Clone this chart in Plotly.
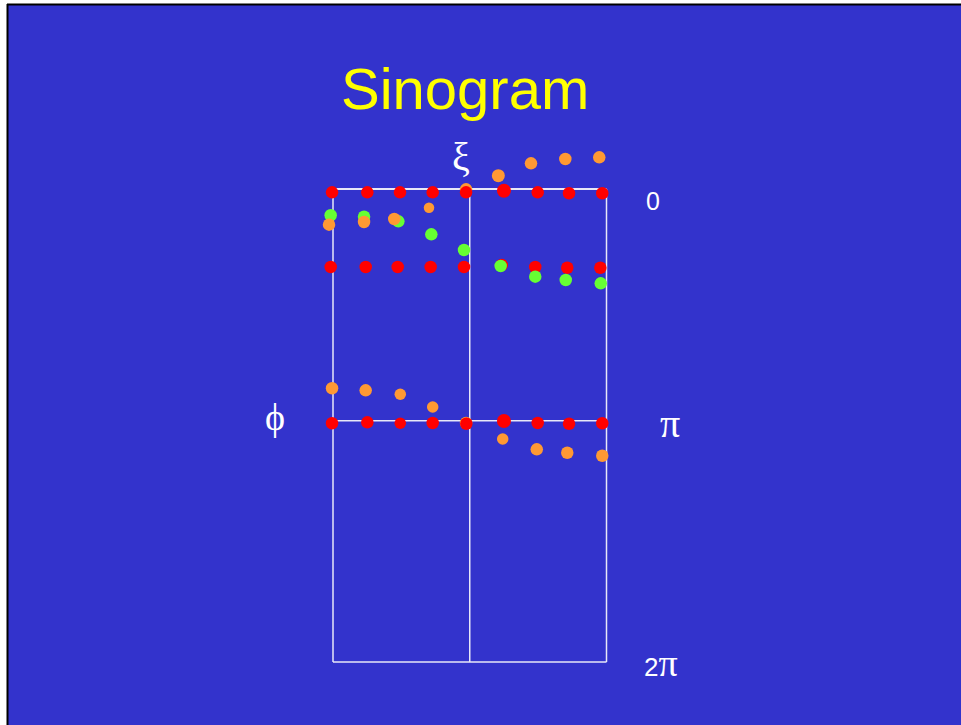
import plotly.graph_objects as go

# ---- data (xi horizontal, phi vertical in radians, 0 at top) ----
grid_xi = [-1.0, 0.0, 1.0]
grid_phi = [0.0, 3.08, 6.283]

red_row1_xi = [-1.007, -0.749, -0.510, -0.271, -0.027, 0.250, 0.497, 0.726, 0.969]
red_row1_phi = [0.044, 0.044, 0.044, 0.044, 0.044, 0.023, 0.044, 0.057, 0.057]
red_row1_size = [12.5, 12.5, 12.5, 12.5, 12.5, 14, 12.5, 12.5, 12.5]

red_row2_xi = [-1.017, -0.761, -0.527, -0.286, -0.042, 0.234, 0.479, 0.713, 0.955]
red_row2_phi = [1.036, 1.036, 1.036, 1.036, 1.036, 1.010, 1.036, 1.046, 1.046]
red_row2_size = [12.5, 12.5, 12.5, 12.5, 12.5, 12.5, 12.5, 12.5, 12.5]

red_row3_xi = [-1.007, -0.749, -0.508, -0.271, -0.025, 0.250, 0.497, 0.726, 0.969]
red_row3_phi = [3.112, 3.099, 3.112, 3.108, 3.118, 3.082, 3.108, 3.118, 3.112]
red_row3_size = [12.5, 12.5, 11.5, 12.5, 12.5, 14, 12.5, 12.5, 12.5]

green_xi = [-1.017, -0.773, -0.522, -0.281, -0.042, 0.226, 0.479, 0.702, 0.958]
green_phi = [0.349, 0.368, 0.429, 0.602, 0.810, 1.023, 1.165, 1.209, 1.253]
green_size = [12.5, 12.5, 12.5, 12.5, 12.5, 12.5, 12.5, 12.5, 12.5]

orange_a_xi = [-1.029, -0.773, -0.552, -0.298, -0.027, 0.209, 0.448, 0.699, 0.947]
orange_a_phi = [0.474, 0.438, 0.399, 0.248, 0.004, -0.177, -0.341, -0.399, -0.421]
orange_a_size = [12.5, 12.5, 12.5, 10.5, 12.5, 13, 12.5, 12.5, 12.5]

orange_b_xi = [-1.007, -0.761, -0.508, -0.271, -0.027, 0.241, 0.490, 0.713, 0.969]
orange_b_phi = [2.647, 2.674, 2.727, 2.896, 3.108, 3.321, 3.458, 3.503, 3.543]
orange_b_size = [12.5, 12.5, 11.5, 11.5, 12.5, 11.5, 12.5, 12.5, 12.5]

RED = "#FF0000"
GREEN = "#66FF33"
ORANGE = "#FF9933"
BLUE = "#3333CC"

W, H = 961, 725
# axis ranges so that xi=-1..1 spans px 333..606.5 and phi=0..2pi spans px 189..662
px_per_xi = 136.75
xi0_px = 469.75
px_per_phi = 473 / 6.283
phi0_px = 189
x_range = [(0 - xi0_px) / px_per_xi, (W - xi0_px) / px_per_xi]
y_range = [(H - phi0_px) / px_per_phi, (0 - phi0_px) / px_per_phi]

fig = go.Figure()

def dots(xs, ys, sizes, color):
    fig.add_trace(go.Scatter(x=xs, y=ys, mode="markers",
                             marker=dict(color=color, size=sizes, opacity=1, line=dict(width=0)),
                             hoverinfo="skip", showlegend=False))

dots(red_row2_xi, red_row2_phi, red_row2_size, RED)
dots(green_xi, green_phi, green_size, GREEN)
dots(orange_a_xi, orange_a_phi, orange_a_size, ORANGE)
dots(orange_b_xi, orange_b_phi, orange_b_size, ORANGE)
dots(red_row1_xi, red_row1_phi, red_row1_size, RED)
dots(red_row3_xi, red_row3_phi, red_row3_size, RED)

shapes = []
# slide background + frame
shapes.append(dict(type="rect", xref="paper", yref="paper", x0=8 / W, x1=1, y0=0, y1=1 - 5 / H,
                   fillcolor=BLUE, line=dict(width=0), layer="below"))
shapes.append(dict(type="line", xref="paper", yref="paper", x0=7 / W, x1=1, y0=1 - 4.5 / H, y1=1 - 4.5 / H,
                   line=dict(color="black", width=2), layer="below"))
shapes.append(dict(type="line", xref="paper", yref="paper", x0=7.5 / W, x1=7.5 / W, y0=0, y1=1 - 4 / H,
                   line=dict(color="black", width=2), layer="below"))
LINE = "#E8E8F8"
for gx in grid_xi:
    shapes.append(dict(type="line", xref="x", yref="y", x0=gx, x1=gx, y0=grid_phi[0], y1=grid_phi[-1],
                       line=dict(color=LINE, width=1.5), layer="below"))
for i, gp in enumerate(grid_phi):
    shapes.append(dict(type="line", xref="x", yref="y", x0=grid_xi[0], x1=grid_xi[-1], y0=gp, y1=gp,
                       line=dict(color=LINE, width=2 if i == 0 else 1.5), layer="below"))

def ann(text, px, py, size, color="white", family="Liberation Serif"):
    return dict(text=text, xref="paper", yref="paper", x=px / W, y=1 - py / H,
                xanchor="center", yanchor="middle", showarrow=False,
                font=dict(size=size, color=color, family=family))

annotations = [
    ann("Sinogram", 465, 88, 58, "#FFFF00", "Liberation Sans"),
    ann("ξ", 461, 157, 40),
    ann("ϕ", 275, 417, 38),
    ann("0", 653, 201, 25, family="Liberation Sans"),
    ann("π", 670, 423, 40),
    ann("2<span style='font-family:Liberation Serif;font-size:38px'>π</span>", 661, 663, 26, family="Liberation Sans"),
]

fig.update_layout(
    width=W, height=H,
    margin=dict(l=0, r=0, t=0, b=0),
    paper_bgcolor="white", plot_bgcolor="rgba(0,0,0,0)",
    xaxis=dict(range=x_range, visible=False, showgrid=False, zeroline=False, fixedrange=True),
    yaxis=dict(range=y_range, visible=False, showgrid=False, zeroline=False, fixedrange=True),
    shapes=shapes, annotations=annotations, showlegend=False,
)

fig.write_html("out.html", config={"displayModeBar": False},
               post_script="document.body.style.margin='0';document.body.style.padding='0';document.body.style.overflow='hidden';")
